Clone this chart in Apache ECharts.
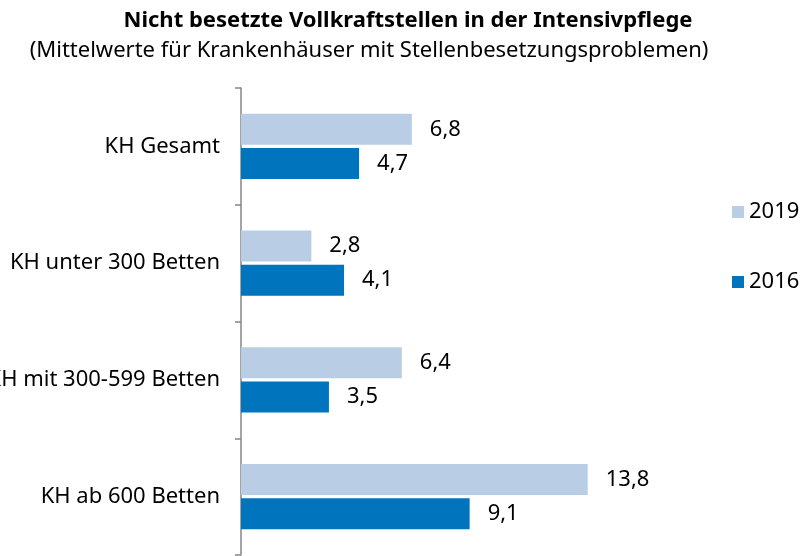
<!DOCTYPE html>
<html>
<head>
<meta charset="utf-8">
<script src="https://cdn.jsdelivr.net/npm/echarts@6/dist/echarts.min.js"></script>
<style>
  html, body { margin: 0; padding: 0; background: #fff; }
  #chart { width: 803px; height: 556px; }
</style>
</head>
<body>
<div id="chart"></div>
<script>
// Daten
var kategorien = ['KH Gesamt', 'KH unter 300 Betten', 'KH mit 300-599 Betten', 'KH ab 600 Betten'];
var werte2019 = [6.8, 2.8, 6.4, 13.8];
var werte2016 = [4.7, 4.1, 3.5, 9.1];

var schrift = '"Noto Sans", "Open Sans", sans-serif';

var myChart = echarts.init(document.getElementById('chart'));

function wertLabel(p) {
    return String(p.value).replace('.', ',');
}

var option = {
    animation: false,
    textStyle: { fontFamily: schrift },
    title: [
        {
            text: 'Nicht besetzte Vollkraftstellen in der Intensivpflege',
            left: 403, top: 5, textAlign: 'center',
            textStyle: { fontSize: 22, fontWeight: 'bold', color: '#000', fontFamily: schrift }
        },
        {
            text: '(Mittelwerte für Krankenhäuser mit Stellenbesetzungsproblemen)',
            left: 364, top: 35, textAlign: 'center',
            textStyle: { fontSize: 22, fontWeight: 'normal', color: '#000', fontFamily: schrift }
        }
    ],
    legend: {
        data: ['2019', '2016'],
        orient: 'vertical',
        left: 727, top: 196,
        itemGap: 48,
        itemWidth: 12, itemHeight: 12,
        icon: 'rect',
        textStyle: { fontSize: 22, color: '#000', fontFamily: schrift }
    },
    grid: { left: 241, top: 88, width: 402, height: 467, containLabel: false, outerBoundsMode: 'none' },
    xAxis: {
        type: 'value', min: 0, max: 16, show: false
    },
    yAxis: {
        type: 'category',
        data: kategorien,
        inverse: true,
        axisLine: { show: true, lineStyle: { color: '#868686', width: 1.5 } },
        axisTick: { show: true, inside: false, length: 6, alignWithLabel: false, lineStyle: { color: '#868686', width: 1.5 } },
        axisLabel: { fontSize: 22, color: '#000', margin: 21, fontFamily: schrift }
    },
    series: [
        {
            name: '2019', type: 'bar', data: werte2019,
            barWidth: 31, barGap: '10%',
            itemStyle: { color: '#B9CDE5' },
            label: { show: true, position: 'right', distance: 18, fontSize: 22, color: '#000', formatter: wertLabel }
        },
        {
            name: '2016', type: 'bar', data: werte2016,
            barWidth: 31,
            itemStyle: { color: '#0075BD' },
            label: { show: true, position: 'right', distance: 18, fontSize: 22, color: '#000', formatter: wertLabel }
        }
    ]
};

myChart.setOption(option);
</script>
</body>
</html>
